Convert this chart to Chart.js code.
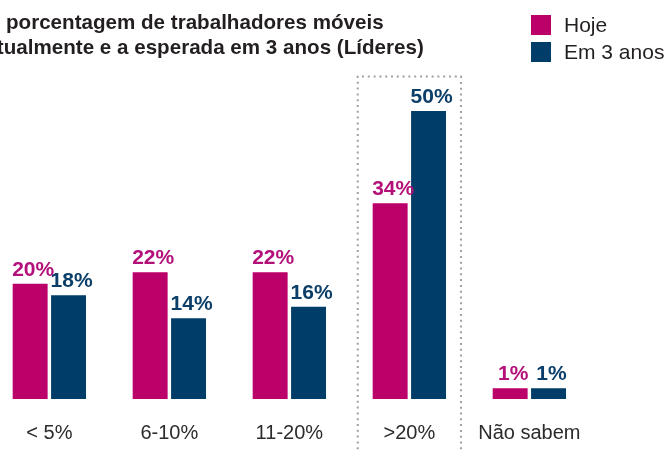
<!DOCTYPE html>
<html><head><meta charset="utf-8">
<script src="https://cdn.jsdelivr.net/npm/chart.js@4.4.1/dist/chart.umd.min.js"></script>
<style>
html,body{margin:0;padding:0;width:667px;height:452px;overflow:hidden;background:#fff;position:relative}
#c{position:absolute;left:-20px;top:0}
</style></head><body>
<canvas id="c" width="700" height="474"></canvas>
<script>
// ---- data ----
const categories = ['< 5%', '6-10%', '11-20%', '>20%', 'Não sabem'];
const hoje = [20, 22, 22, 34, 1];
const em3anos = [18, 14, 16, 50, 1];
const seriesNames = ['Hoje', 'Em 3 anos'];
const titleLines = ['A porcentagem de trabalhadores móveis', 'atualmente e a esperada em 3 anos (Líderes)'];
const highlightCategory = '>20%';

// ---- styles ----
const PINK = '#bb006a', BLUE = '#003d68';
const PINK_TXT = '#b3107a', BLUE_TXT = '#0b3e68';
const SHIFT = 20; // canvas is shifted left by this many px
const FONT = '"Liberation Sans", Arial, Helvetica, sans-serif';

const labelsPlugin = {
  id: 'valueLabels',
  afterDatasetsDraw(chart) {
    const ctx = chart.ctx;
    ctx.save();
    ctx.font = 'bold 21px ' + FONT;
    ctx.textAlign = 'center';
    ctx.textBaseline = 'alphabetic';
    chart.data.datasets.forEach((ds, di) => {
      const meta = chart.getDatasetMeta(di);
      ctx.fillStyle = di === 0 ? PINK_TXT : BLUE_TXT;
      meta.data.forEach((bar, i) => {
        ctx.fillText(ds.data[i] + '%', bar.x + 3, bar.y - 8);
      });
    });
    ctx.restore();
  }
};

const boxPlugin = {
  id: 'highlightBox',
  beforeDatasetsDraw(chart) {
    const xs = chart.scales.x, ys = chart.scales.y;
    const idx = categories.indexOf(highlightCategory);
    const cx = xs.getPixelForValue(idx);
    const half = 0.43 * (xs.width / categories.length);
    const top = ys.getPixelForValue(56);
    const bottom = chart.height + 10;
    const ctx = chart.ctx;
    ctx.save();
    ctx.strokeStyle = '#a0a0a0';
    ctx.lineWidth = 2;
    ctx.setLineDash([2, 3.8]);
    ctx.beginPath();
    ctx.moveTo(cx - half, bottom);
    ctx.lineTo(cx - half, top);
    ctx.lineTo(cx + half, top);
    ctx.lineTo(cx + half, bottom);
    ctx.stroke();
    ctx.restore();
  }
};

const headerPlugin = {
  id: 'header',
  afterDraw(chart) {
    const ctx = chart.ctx;
    ctx.save();
    ctx.fillStyle = '#231f20';
    ctx.font = 'bold 20.6px ' + FONT;
    ctx.textAlign = 'left';
    ctx.textBaseline = 'alphabetic';
    ctx.fillText(titleLines[0], -14.6 + SHIFT, 29);
    ctx.fillText(titleLines[1], -14.6 + SHIFT, 54);
    // legend
    const cols = [PINK, BLUE];
    ctx.font = '21px ' + FONT;
    ctx.textBaseline = 'middle';
    seriesNames.forEach((n, i) => {
      const y = 15 + i * 27;
      ctx.fillStyle = cols[i];
      ctx.fillRect(531 + SHIFT, y, 20, 20);
      ctx.fillStyle = '#231f20';
      ctx.fillText(n, 564 + SHIFT, y + 11);
    });
    ctx.restore();
  }
};

new Chart(document.getElementById('c'), {
  type: 'bar',
  data: {
    labels: categories,
    datasets: [
      { label: seriesNames[0], data: hoje, backgroundColor: PINK, borderWidth: 0 },
      { label: seriesNames[1], data: em3anos, backgroundColor: BLUE, borderWidth: 0 }
    ]
  },
  options: {
    responsive: false,
    animation: false,
    devicePixelRatio: 1,
    categoryPercentage: 0.64,
    barPercentage: 0.91,
    minBarLength: 10.7,
    layout: { padding: { left: 9.35, right: 90.65, top: 53.4, bottom: 7 } },
    plugins: { legend: { display: false }, title: { display: false }, tooltip: { enabled: false } },
    scales: {
      x: {
        grid: { display: false, drawTicks: false },
        border: { display: false },
        ticks: { color: '#2b2b2b', font: { family: FONT, size: 20 }, padding: 22, maxRotation: 0, autoSkip: false }
      },
      y: {
        display: false,
        min: 0, max: 60
      }
    }
  },
  plugins: [boxPlugin, labelsPlugin, headerPlugin]
});
</script>
</body></html>
